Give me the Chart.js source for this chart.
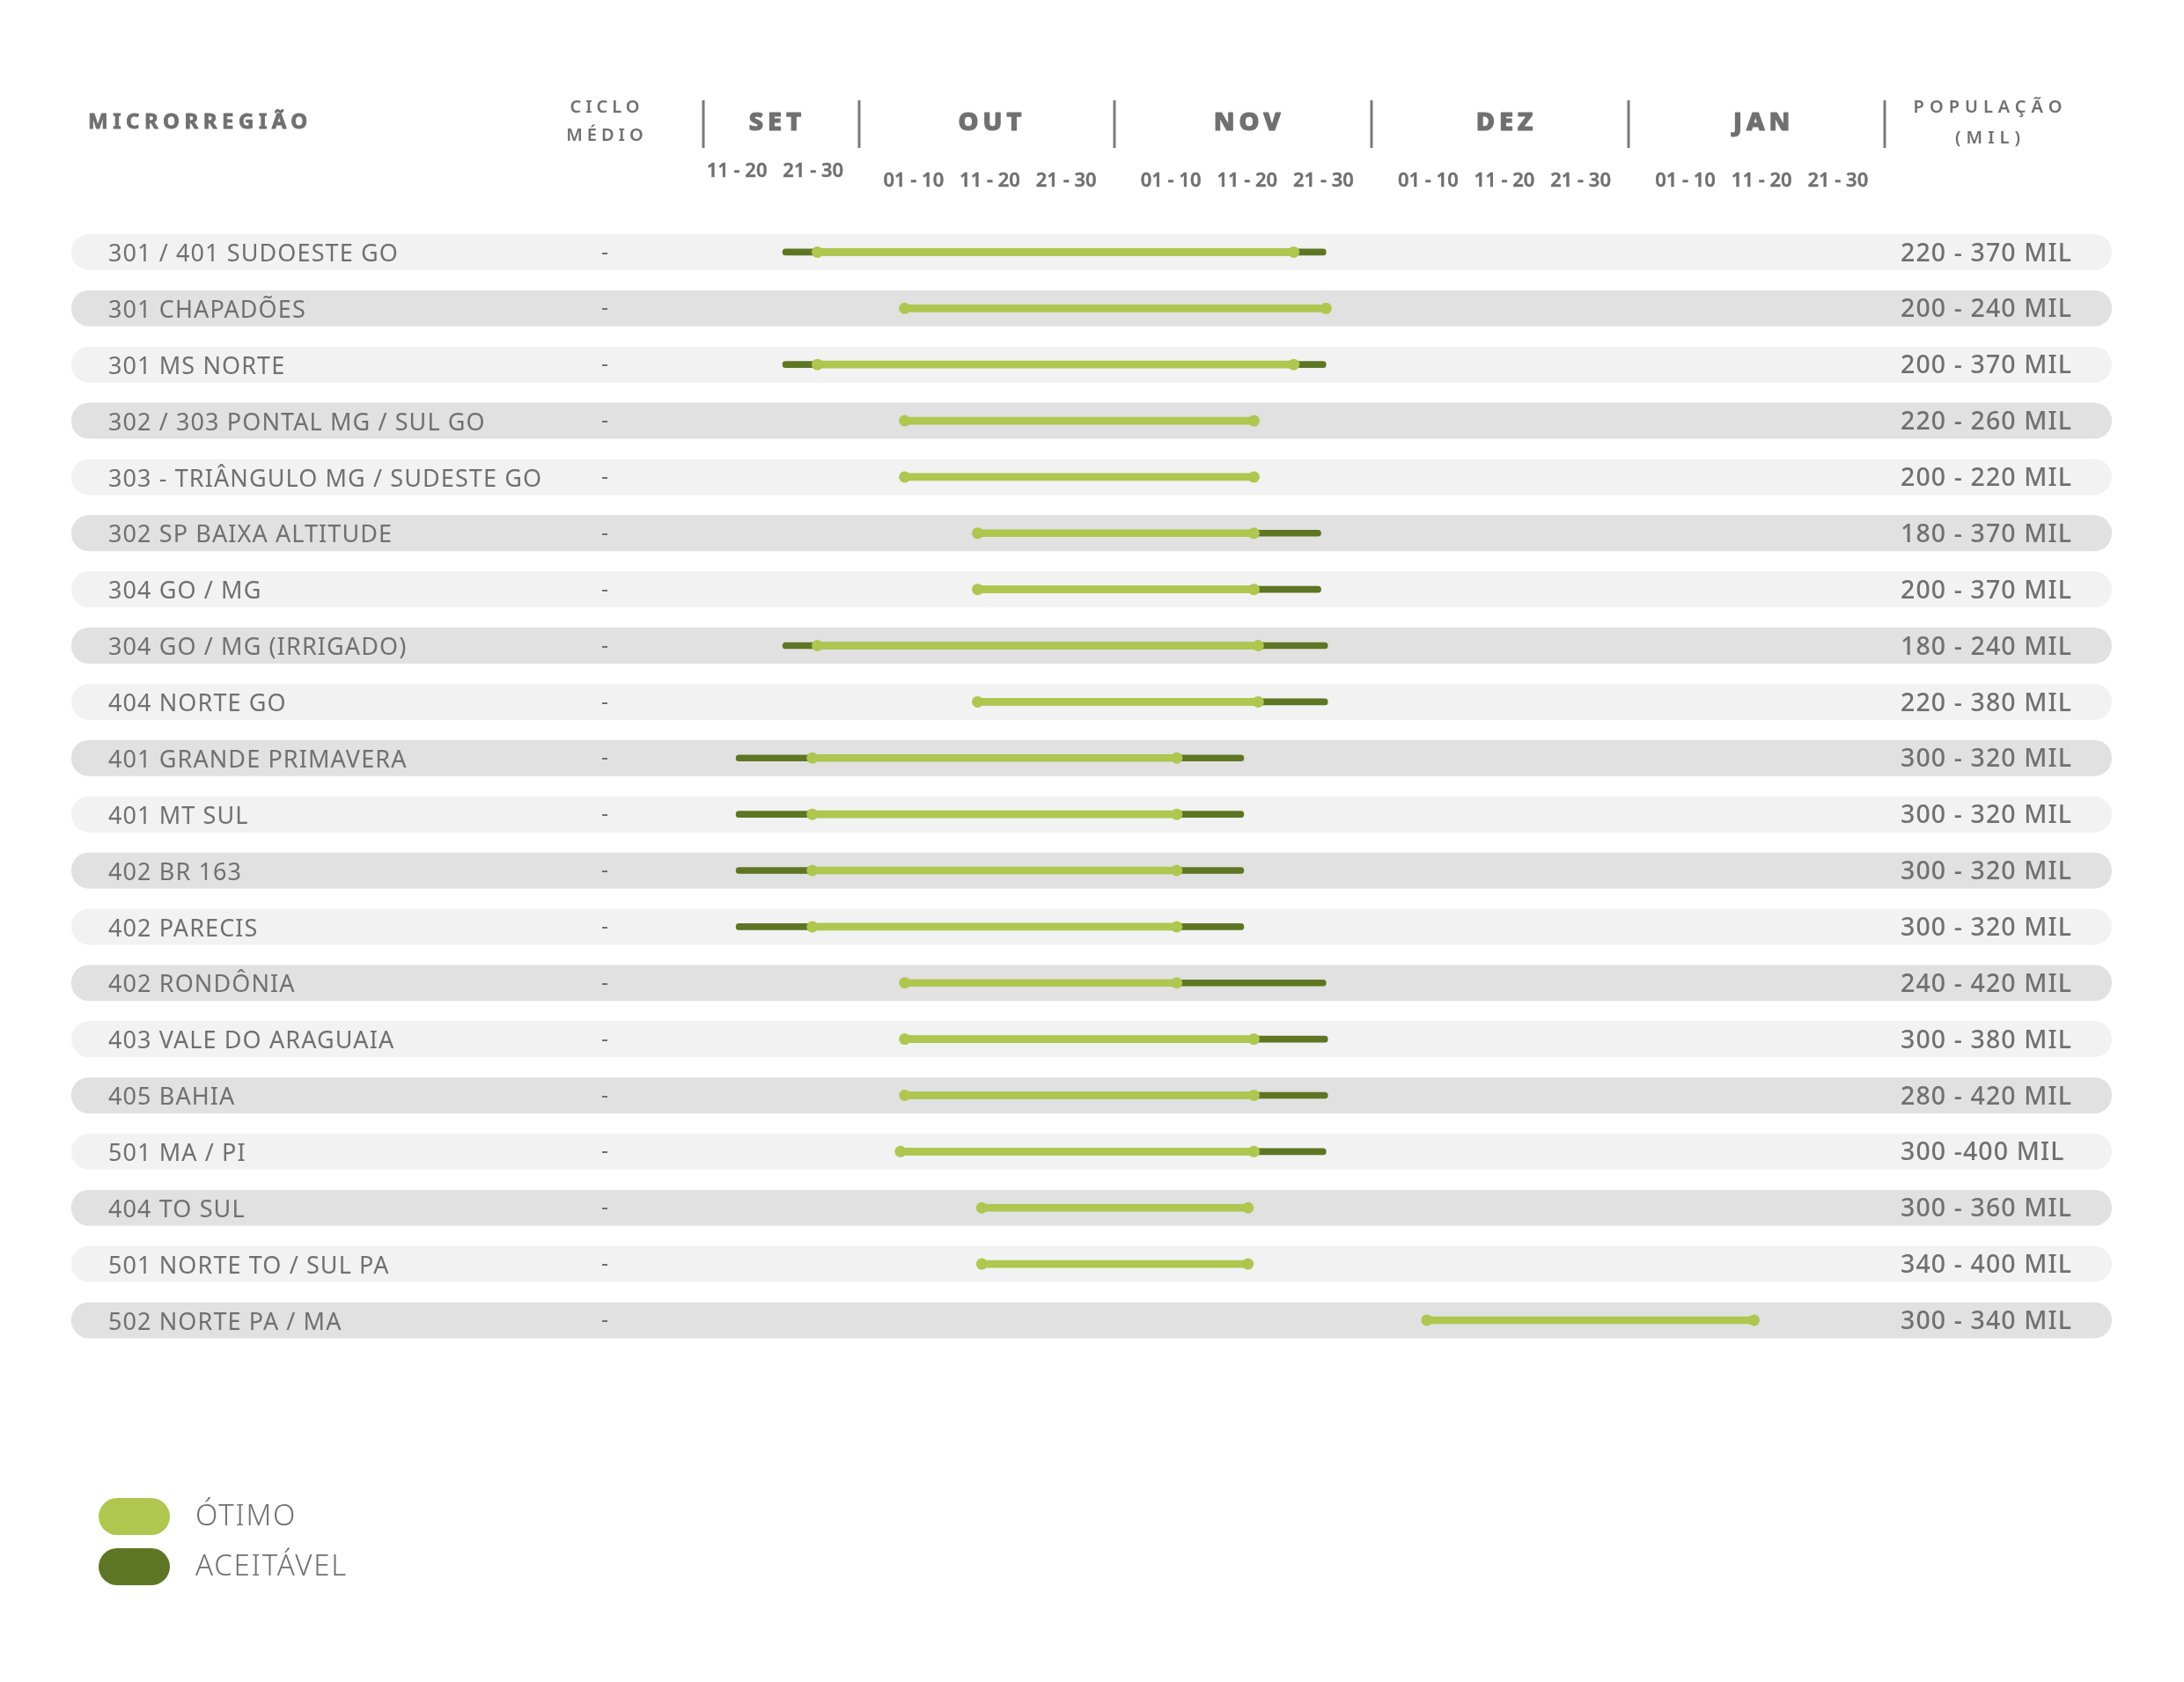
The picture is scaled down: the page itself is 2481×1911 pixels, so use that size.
<!DOCTYPE html>
<html>
<head>
<meta charset="utf-8">
<script src="https://cdn.jsdelivr.net/npm/chart.js@4.4.0/dist/chart.umd.min.js"></script>
<style>
html,body{margin:0;padding:0;background:#ffffff;}
canvas{display:block;}
</style>
</head>
<body>
<canvas id="c" width="2481" height="1911" style="width:2481px;height:1911px"></canvas>
<script>
// ---------------- DATA ----------------
const microrregioes = [
  '301 / 401 SUDOESTE GO',
  '301 CHAPADÕES',
  '301 MS NORTE',
  '302 / 303 PONTAL MG / SUL GO',
  '303 - TRIÂNGULO MG / SUDESTE GO',
  '302 SP BAIXA ALTITUDE',
  '304 GO / MG',
  '304 GO / MG (IRRIGADO)',
  '404 NORTE GO',
  '401 GRANDE PRIMAVERA',
  '401 MT SUL',
  '402 BR 163',
  '402 PARECIS',
  '402 RONDÔNIA',
  '403 VALE DO ARAGUAIA',
  '405 BAHIA',
  '501 MA / PI',
  '404 TO SUL',
  '501 NORTE TO / SUL PA',
  '502 NORTE PA / MA'
];
const cicloMedio = ['-','-','-','-','-','-','-','-','-','-','-','-','-','-','-','-','-','-','-','-'];
const populacao = [
  '220 - 370 MIL','200 - 240 MIL','200 - 370 MIL','220 - 260 MIL','200 - 220 MIL',
  '180 - 370 MIL','200 - 370 MIL','180 - 240 MIL','220 - 380 MIL','300 - 320 MIL',
  '300 - 320 MIL','300 - 320 MIL','300 - 320 MIL','240 - 420 MIL','300 - 380 MIL',
  '280 - 420 MIL','300 -400 MIL','300 - 360 MIL','340 - 400 MIL','300 - 340 MIL'
];
// timeline in "decêndios" (0 = SET 11-20, 1 = SET 21-30, 2 = OUT 01-10, ...)
const otimoInicio = [0.96,1.99,0.96,1.99,1.99,2.85,2.85,0.96,2.85,0.90,0.90,0.90,0.90,1.99,1.99,1.99,1.94,2.90,2.90,8.15];
const otimoFim    = [6.58,6.96,6.58,6.11,6.11,6.11,6.11,6.16,6.16,5.20,5.20,5.20,5.20,5.20,6.11,6.11,6.11,6.04,6.04,12.01];
const aceitavelInicio = [0.55,null,0.55,null,null,2.85,2.85,0.55,2.85,0.00,0.00,0.00,0.00,1.99,1.99,1.99,1.94,null,null,null];
const aceitavelFim    = [6.96,null,6.96,null,null,6.90,6.90,6.98,6.98,5.99,5.99,5.99,5.99,6.96,6.98,6.98,6.96,null,null,null];

const meses = ['SET','OUT','NOV','DEZ','JAN'];
const decendios = [
  ['11 - 20','21 - 30'],
  ['01 - 10','11 - 20','21 - 30'],
  ['01 - 10','11 - 20','21 - 30'],
  ['01 - 10','11 - 20','21 - 30'],
  ['01 - 10','11 - 20','21 - 30']
];
const legendaLabels = ['ÓTIMO','ACEITÁVEL'];

// ---------------- STYLE ----------------
const VERDE_CLARO = '#afc64f';
const VERDE_ESCURO = '#5e7623';
const FAIXA_CLARA = '#f2f2f2';
const FAIXA_ESCURA = '#e1e1e1';
const CINZA = '#707070';
const FONT = "'Noto Sans', 'DejaVu Sans', sans-serif";

const otimoData = otimoInicio.map((s,i)=>[s, otimoFim[i]]);
const aceitavelData = aceitavelInicio.map((s,i)=> s===null ? null : [s, aceitavelFim[i]]);
const pontas = [];
otimoInicio.forEach((s,i)=>{
  pontas.push({x:s, y:microrregioes[i]});
  pontas.push({x:otimoFim[i], y:microrregioes[i]});
});

function txt(ctx, s, x, y, font, align, spacing, stroke){
  ctx.save();
  ctx.font = font;
  ctx.fillStyle = CINZA;
  ctx.strokeStyle = CINZA;
  ctx.textBaseline = 'middle';
  ctx.letterSpacing = spacing || '0px';
  const sp = parseFloat(spacing || '0');
  const w = ctx.measureText(s).width;
  let xx = x;
  ctx.textAlign = 'left';
  if (align === 'center') xx = x - (w - sp)/2;
  else if (align === 'right') xx = x - w;
  ctx.fillText(s, xx, y);
  if (stroke) { ctx.lineWidth = stroke; ctx.lineJoin = 'round'; ctx.strokeText(s, xx, y); }
  ctx.restore();
}

const decorPlugin = {
  id: 'decor',
  beforeDraw(chart){
    const ctx = chart.ctx;
    const xs = chart.scales.x, ys = chart.scales.y;
    // row bands
    microrregioes.forEach((m,k)=>{
      const cy = ys.getPixelForValue(k);
      ctx.save();
      ctx.fillStyle = k % 2 === 0 ? FAIXA_CLARA : FAIXA_ESCURA;
      ctx.beginPath();
      ctx.roundRect(81, cy-20.5, 2318, 41, 20);
      ctx.fill();
      ctx.restore();
      txt(ctx, cicloMedio[k], 687, cy+1, "400 25px "+FONT, 'center');
    });
    // header
    txt(ctx, 'MICRORREGIÃO', 100, 139, "700 24px "+FONT, 'left', '5.5px', 0.8);
    txt(ctx, 'CICLO', 687, 122, "600 20px "+FONT, 'center', '5px');
    txt(ctx, 'MÉDIO', 687, 154, "600 20px "+FONT, 'center', '5px');
    txt(ctx, 'POPULAÇÃO', 2258, 122, "600 20px "+FONT, 'center', '6px');
    txt(ctx, '(MIL)', 2258, 157, "600 20px "+FONT, 'center', '6px');

    let idx = 0;
    const groups = meses.map((m,mi)=>{
      const n = decendios[mi].length;
      const center = idx + (n-1)/2 + 0.035*mi - 0.04;
      const pos = decendios[mi].map((d,k)=> center + (k-(n-1)/2)*0.9);
      idx += n;
      return {m, center, pos, labels: decendios[mi]};
    });
    const seps = [groups[0].pos[0]-0.4];
    for (let g=1; g<groups.length; g++){
      const a = groups[g-1].pos[groups[g-1].pos.length-1], b = groups[g].pos[0];
      seps.push((a+b)/2 - 0.05);
    }
    const lastG = groups[groups.length-1];
    seps.push(lastG.pos[lastG.pos.length-1]+0.55);
    ctx.save();
    ctx.strokeStyle = '#7a7a7a';
    ctx.lineWidth = 3;
    seps.forEach(v=>{
      const px = Math.round(xs.getPixelForValue(v));
      ctx.beginPath(); ctx.moveTo(px, 114); ctx.lineTo(px, 168); ctx.stroke();
    });
    ctx.restore();
    groups.forEach((g,gi)=>{
      txt(ctx, g.m, xs.getPixelForValue(g.center), 140, "800 29px "+FONT, 'center', '5px', 1.2);
      g.pos.forEach((p,k)=>{
        txt(ctx, g.labels[k], xs.getPixelForValue(p), gi===0 ? 195 : 206, "600 22px "+FONT, 'center', '0px', 0.4);
      });
    });
    // legend
    const ds = chart.data.datasets;
    [0,1].forEach((di,k)=>{
      const top = 1702 + k*57;
      ctx.save();
      ctx.fillStyle = ds[di].backgroundColor;
      ctx.beginPath();
      ctx.roundRect(112, top, 81, 42, 21);
      ctx.fill();
      ctx.restore();
      txt(ctx, ds[di].label, 222, top+22, "300 33px "+FONT, 'left', '1.8px');
    });
    // spacing for axis tick labels (Montserrat-like width)
    ctx.letterSpacing = '1.1px';
  },
  afterDraw(chart){
    chart.ctx.letterSpacing = '0px';
  }
};

new Chart(document.getElementById('c'), {
  type: 'bar',
  data: {
    labels: microrregioes,
    datasets: [
      {
        label: legendaLabels[0],
        data: otimoData,
        backgroundColor: VERDE_CLARO,
        barThickness: 8,
        borderRadius: 4,
        borderSkipped: false,
        grouped: false,
        order: 1
      },
      {
        label: legendaLabels[1],
        data: aceitavelData,
        backgroundColor: VERDE_ESCURO,
        barThickness: 7,
        borderRadius: 4,
        borderSkipped: false,
        grouped: false,
        order: 2
      },
      {
        type: 'scatter',
        label: 'pontas',
        data: pontas,
        backgroundColor: VERDE_CLARO,
        borderWidth: 0,
        pointRadius: 6.5,
        order: 0
      }
    ]
  },
  options: {
    indexAxis: 'y',
    responsive: false,
    animation: false,
    events: [],
    layout: { padding: { left: 123, right: 0, top: 254.5, bottom: 379.1 } },
    plugins: { legend: { display: false }, tooltip: { enabled: false } },
    scales: {
      x: { type: 'linear', min: -0.5, max: 13.5, display: false },
      y: {
        type: 'category',
        position: 'left',
        offset: true,
        grid: { display: false, drawTicks: false },
        border: { display: false },
        ticks: { crossAlign: 'far', autoSkip: false, color: CINZA, padding: 0, labelOffset: 3,
                 font: { family: FONT, size: 27, weight: '400' } },
        afterFit(s){ s.width = 665; }
      },
      y2: {
        type: 'category',
        position: 'right',
        labels: populacao,
        offset: true,
        display: true,
        grid: { display: false, drawTicks: false },
        border: { display: false },
        ticks: { crossAlign: 'near', autoSkip: false, color: CINZA, padding: 23, labelOffset: 2,
                 font: { family: FONT, size: 28.5, weight: '500' } },
        afterFit(s){ s.width = 345; }
      }
    }
  },
  plugins: [decorPlugin]
});
</script>
</body>
</html>
